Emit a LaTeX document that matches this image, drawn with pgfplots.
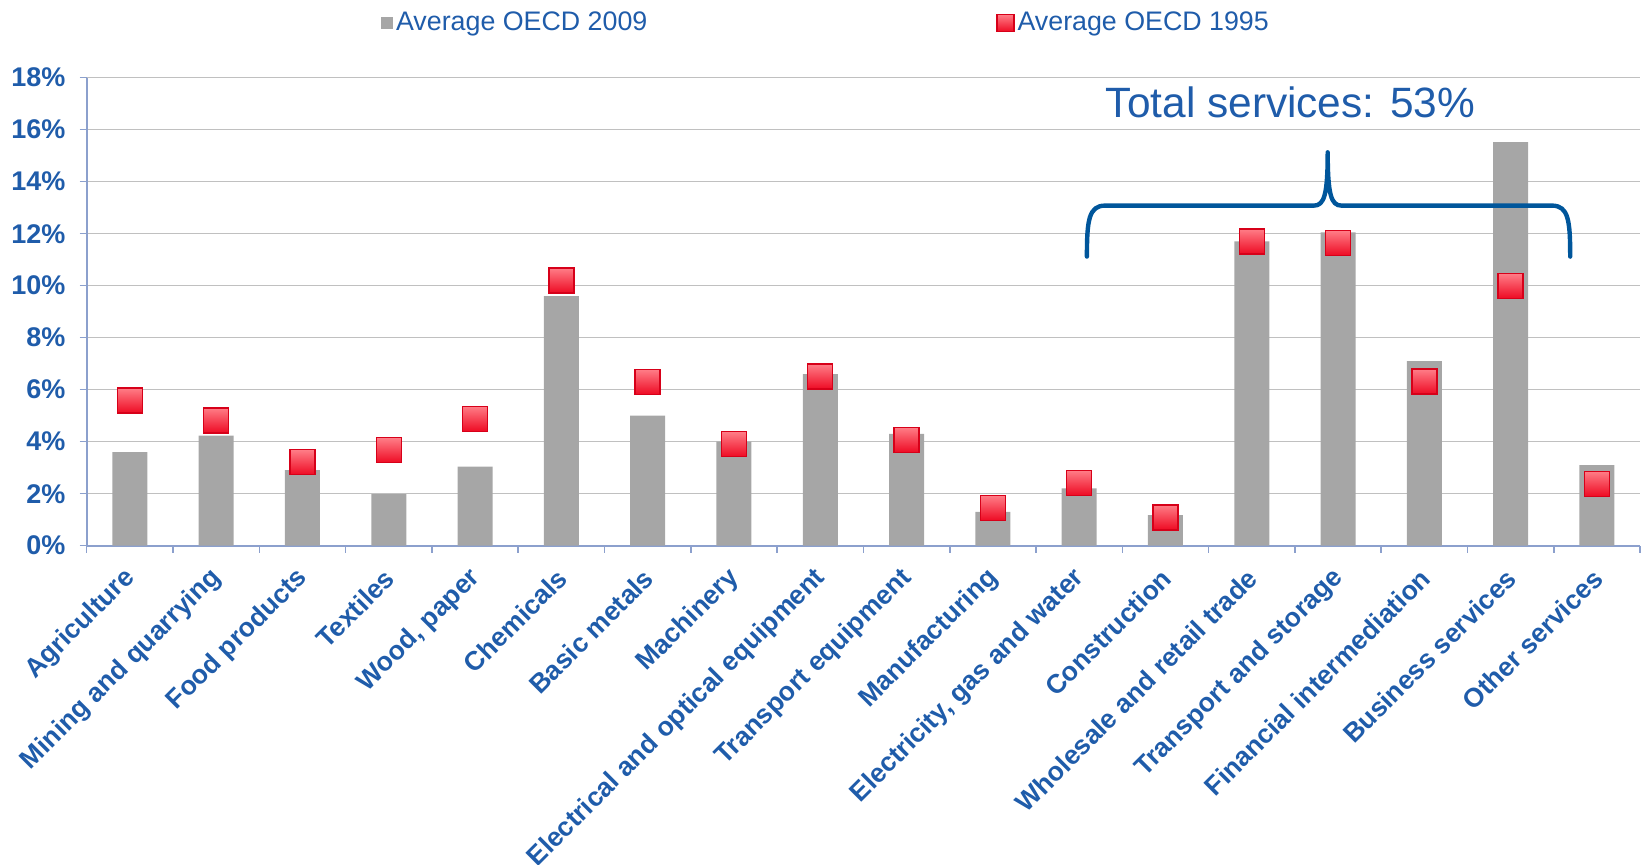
\documentclass[border=0pt]{standalone}
\usepackage{fontspec}
\setmainfont{Liberation Sans}
\usepackage{pgfplots}
\usepackage{pgfplotstable}
\pgfplotsset{compat=1.18}
\definecolor{tblue}{RGB}{31,92,170}
\definecolor{barg}{RGB}{166,166,166}
\definecolor{axisblue}{RGB}{140,160,205}
\definecolor{gridg}{RGB}{192,192,192}
\definecolor{mtop}{RGB}{255,125,135}
\definecolor{mbot}{RGB}{238,10,35}
\definecolor{medge}{RGB}{215,0,25}
\definecolor{bracecol}{RGB}{0,86,155}

\pgfdeclareplotmark{shsq}{%
  \shade[top color=mtop,bottom color=mbot,draw=medge,line width=0.7pt]
    (-\pgfplotmarksize,-\pgfplotmarksize) rectangle (\pgfplotmarksize,\pgfplotmarksize);}

\pgfplotstableread{
x y09 y95
0 3.6 5.58
1 4.23 4.82
2 2.91 3.21
3 1.98 3.67
4 3.04 4.88
5 9.6 10.2
6 5.0 6.3
7 4.0 3.9
8 6.6 6.5
9 4.3 4.07
10 1.3 1.45
11 2.2 2.42
12 1.18 1.09
13 11.7 11.7
14 12.05 11.64
15 7.1 6.31
16 15.52 9.99
17 3.1 2.38
}\datatab

\begin{document}
\begin{tikzpicture}
\path[use as bounding box] (-43.35pt,-159.65pt) rectangle (778.65pt,272.85pt);
\begin{axis}[
  at={(0,0)}, anchor=south west,
  scale only axis, width=776.7pt, height=234pt,
  xmin=-0.5, xmax=17.5, ymin=0, ymax=18,
  axis x line*=bottom, axis y line*=left,
  axis line style={axisblue, line width=0.9pt},
  tick align=outside, major tick length=3.5pt,
  tick style={axisblue, line width=0.8pt},
  /pgf/number format/assume math mode=true,
  ytick={0,2,...,18},
  yticklabels={0\%,2\%,4\%,6\%,8\%,10\%,12\%,14\%,16\%,18\%},
  yticklabel style={font=\fontsize{13.5}{16}\selectfont\bfseries, text=tblue, inner sep=0pt, xshift=-7pt},
  ymajorgrids, grid style={gridg, line width=0.8pt},
  xtick={-0.5,0.5,...,17.5}, xticklabels={},
  extra x ticks={0,1,...,17},
  extra x tick labels={Agriculture, Mining and quarrying, Food products, Textiles, {Wood, paper}, Chemicals, Basic metals, Machinery, Electrical and optical equipment, Transport equipment, Manufacturing, {Electricity, gas and water}, Construction, Wholesale and retail trade, Transport and storage, Financial intermediation, Business services, Other services},
  extra x tick style={major tick length=0pt, tick style={draw=none},
    xticklabel style={xshift=0.6pt, yshift=-14pt, rotate=45, anchor=east, font=\fontsize{13.3}{16}\selectfont\bfseries, text=tblue, inner sep=0pt}},
  legend columns=2,
  legend style={at={(0,1)}, anchor=west, xshift=147pt, yshift=27.3pt,
    draw=none, fill=none, inner sep=0pt,
    font=\fontsize{13.4}{15}\selectfont,
    nodes={inner sep=1.5pt, text=tblue},
    /tikz/every even column/.append style={column sep=173pt}},
]
\addplot[ybar, bar width=17.5pt, bar shift=0pt, fill=barg, draw=none,
  legend image code/.code={\fill[barg] (0pt,-3pt) rectangle (6pt,3pt);}]
  table[x=x, y=y09] {\datatab};
\addlegendentry{Average OECD 2009}
\addplot[only marks, mark=shsq, mark size=6.25pt,
  legend image code/.code={\shade[top color=mtop,bottom color=mbot,draw=medge,line width=0.6pt] (0pt,-4.25pt) rectangle (8.5pt,4.25pt);}]
  table[x=x, y=y95] {\datatab};
\addlegendentry{Average OECD 1995}
\draw[bracecol, line width=2.2pt, line cap=round, line join=round]
  (axis cs:11.09,11.12) .. controls (axis cs:11.09,12.5) and (axis cs:11.11,13.08) .. (axis cs:11.3,13.08)
  -- (axis cs:13.72,13.08) .. controls (axis cs:13.84,13.08) and (axis cs:13.88,13.5) .. (axis cs:13.88,15.13)
  .. controls (axis cs:13.88,13.5) and (axis cs:13.92,13.08) .. (axis cs:14.04,13.08)
  -- (axis cs:16.48,13.08) .. controls (axis cs:16.67,13.08) and (axis cs:16.69,12.5) .. (axis cs:16.69,11.12);
\node[anchor=base, text=tblue, font=\fontsize{21.2}{24}\selectfont] at (axis cs:13.45,16.47) {Total services: 53\%};
\end{axis}
\end{tikzpicture}
\end{document}
